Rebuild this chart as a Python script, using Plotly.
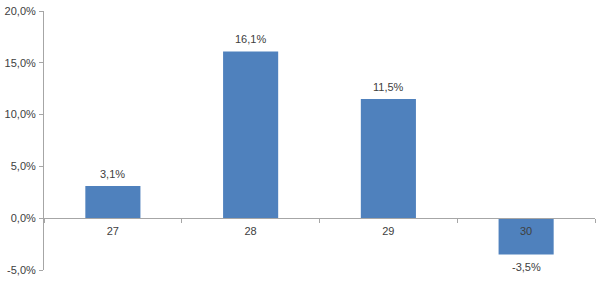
import plotly.graph_objects as go

categories = ["27", "28", "29", "30"]
values = [3.1, 16.1, 11.5, -3.5]
tick_vals = [-5, 0, 5, 10, 15, 20]
tick_text = ["-5,0%", "0,0%", "5,0%", "10,0%", "15,0%", "20,0%"]
bar_labels = [f"{v:.1f}%".replace(".", ",") for v in values]

fig = go.Figure(go.Bar(
    x=categories, y=values,
    marker=dict(color="#4F81BD", line=dict(width=0)),
))

# category axis positions are indices of the categories
for i, (v, t) in enumerate(zip(values, bar_labels)):
    fig.add_annotation(
        x=i, y=v, text=t, showarrow=False,
        yanchor="bottom" if v >= 0 else "top",
        yshift=4 if v >= 0 else -5,
        font=dict(color="#404040", size=11, family="Liberation Sans"),
    )

fig.update_layout(
    width=600, height=282,
    margin=dict(l=44, r=5, t=7, b=12),
    paper_bgcolor="white", plot_bgcolor="white",
    bargap=0.6, showlegend=False,
    font=dict(family="Liberation Sans", size=11, color="#404040"),
)
fig.update_yaxes(
    range=[-5, 20], tickvals=tick_vals, ticktext=tick_text,
    showgrid=False, zeroline=False, showline=True, linecolor="#A6A6A6", linewidth=1,
    ticks="outside", ticklen=4, tickcolor="#A6A6A6", ticklabelstandoff=1,
    tickfont=dict(color="#404040", size=11),
)
fig.update_xaxes(
    type="category", categoryorder="array", categoryarray=categories,
    range=[-0.5, len(categories) - 0.5], tickangle=0,
    anchor="free", position=0.2,
    showgrid=False, zeroline=False, showline=True, linecolor="#A6A6A6", linewidth=1,
    ticks="outside", ticklen=4, tickcolor="#A6A6A6", tickson="boundaries",
    ticklabelstandoff=3,
    tickfont=dict(color="#404040", size=11),
)
fig.write_html("out.html")
